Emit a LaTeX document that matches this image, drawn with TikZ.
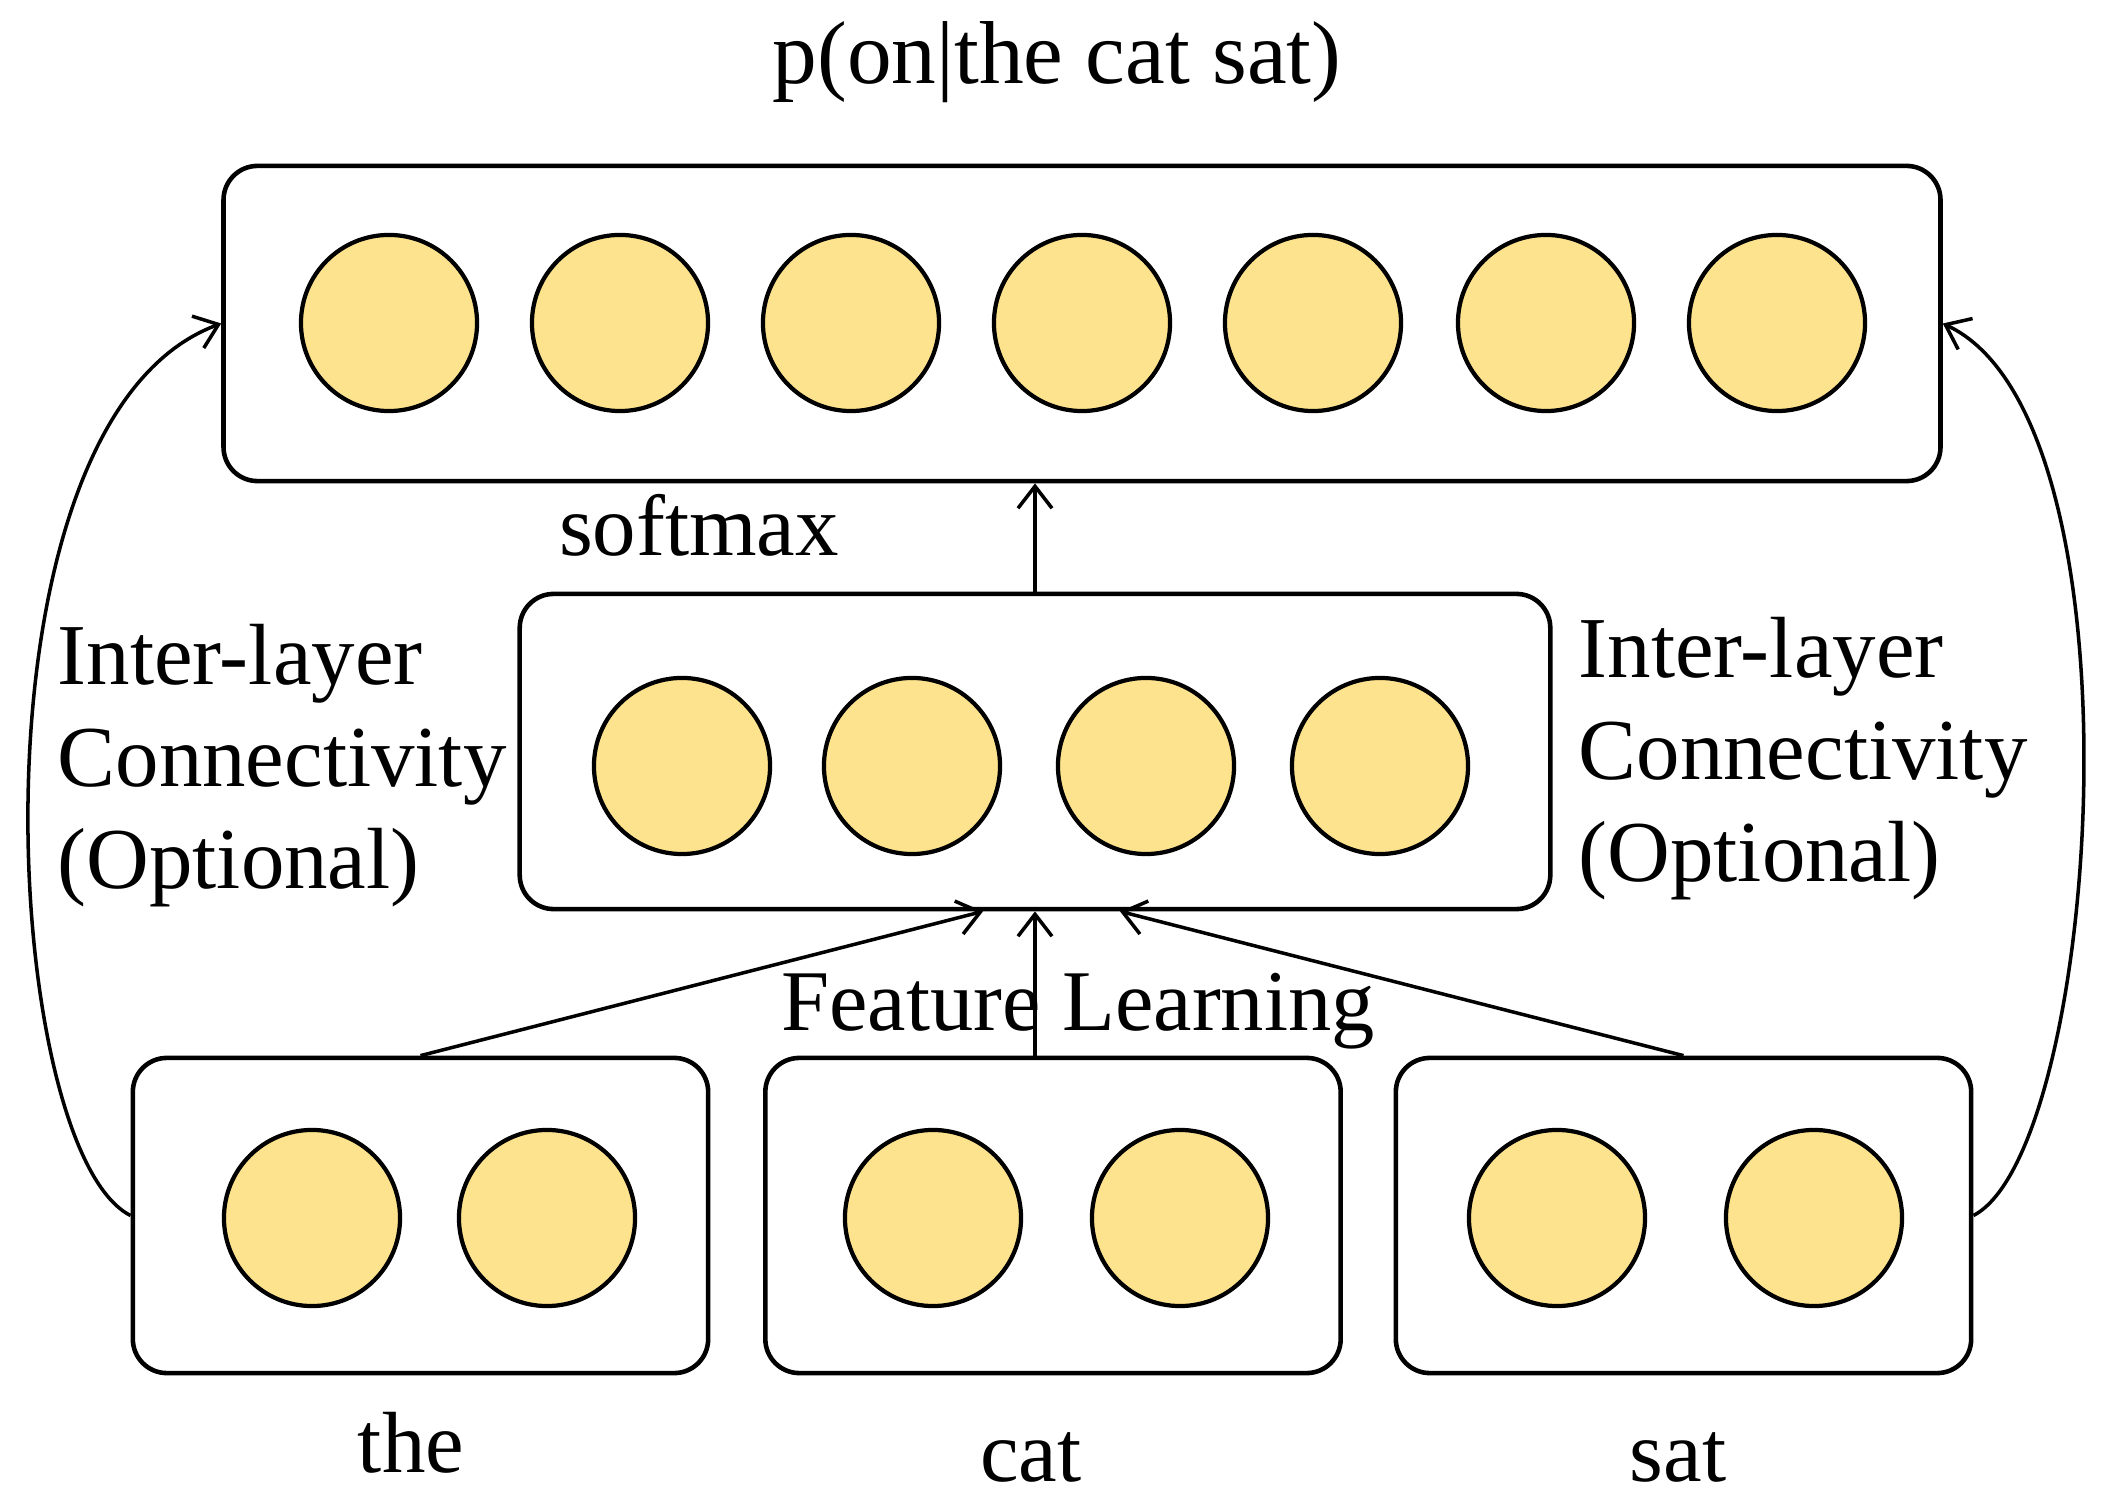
\documentclass[tikz,border=0pt]{standalone}
\usepackage{fontspec}
\setmainfont{Liberation Serif}
\usetikzlibrary{arrows.meta,calc}
\definecolor{unitfill}{HTML}{FDE38E}
\begin{document}
\begin{tikzpicture}[x=0.01cm,y=-0.01cm,
  layerbox/.style={draw=black,line width=1.3pt,rounded corners=0.34cm,minimum height=3.15cm,inner sep=0pt},
  unit/.style={circle,draw=black,line width=1.2pt,fill=unitfill,minimum size=1.76cm,inner sep=0pt},
  arr/.style={line width=1pt,-{Straight Barb[length=2.2mm,width=3.4mm]}},
  lbl/.style={font=\fontsize{24.7}{29}\selectfont,inner sep=0pt}]
\useasboundingbox (0,0) rectangle (2127,1504);
% boxes
\node[layerbox,minimum width=17.16cm] (top) at (1082,323.5) {};
\node[layerbox,minimum width=10.30cm] (mid) at (1035,751.5) {};
\node[layerbox,minimum width=5.75cm] (b1) at (420.5,1215.5) {};
\node[layerbox,minimum width=5.75cm] (b2) at (1053,1215.5) {};
\node[layerbox,minimum width=5.75cm] (b3) at (1683.5,1215.5) {};
% units
\foreach \x [count=\i] in {389,620,851,1082,1313,1546,1777}
  \node[unit] (t\i) at (\x,323) {};
\foreach \x [count=\i] in {682,912,1146,1380}
  \node[unit] (m\i) at (\x,766) {};
\foreach \x [count=\i] in {312,547}
  \node[unit] (a\i) at (\x,1218) {};
\foreach \x [count=\i] in {933,1180}
  \node[unit] (c\i) at (\x,1218) {};
\foreach \x [count=\i] in {1557,1814}
  \node[unit] (s\i) at (\x,1218) {};
% labels
\node[lbl,font=\fontsize{25.4}{30}\selectfont,anchor=base] (title) at (1057,84) {p(on|the cat sat)};
\node[lbl,anchor=base] (softmax) at (699,556) {softmax};
\node[lbl,anchor=base,font=\fontsize{24.6}{29}\selectfont] (feat) at (1078,1031) {Feature Learning};
\node[lbl,anchor=base] (wthe) at (411,1472) {the};
\node[lbl,anchor=base] (wcat) at (1031,1481) {cat};
\node[lbl,anchor=base] (wsat) at (1678,1481) {sat};
\node[lbl,anchor=west,align=left,font=\fontsize{24.7}{29}\selectfont] (ileft) at (57,766) {Inter-layer\\Connectivity\\(Optional)};
\node[lbl,anchor=west,align=left,font=\fontsize{24.7}{29}\selectfont] (iright) at (1578,759) {Inter-layer\\Connectivity\\(Optional)};
% connectors
\draw[arr] (mid.north) -- (mid.north |- top.south);
\draw[arr] (b2.north -| mid.south) -- (mid.south);
\draw[arr] (b1.north) -- ($(mid.south)+(-52,0)$);
\draw[arr] (b3.north) -- ($(mid.south)+(85,0)$);
\draw[arr] (b1.west) .. controls (0,1150) and (-40,420) .. (top.west);
\draw[arr] (b3.east) .. controls (2100,1150) and (2150,420) .. (top.east);
\end{tikzpicture}
\end{document}
